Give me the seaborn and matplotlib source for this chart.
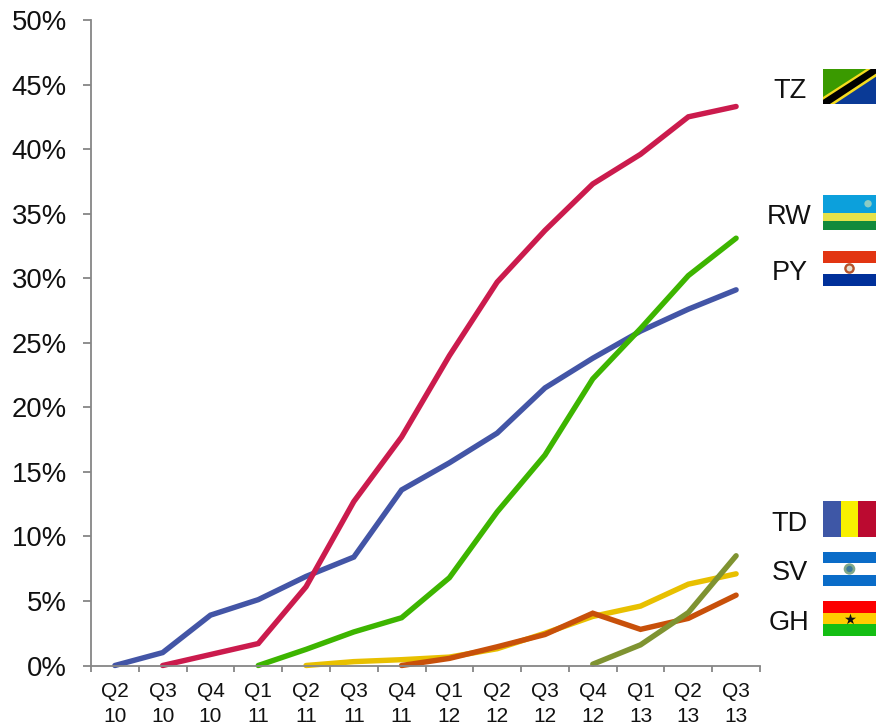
import matplotlib
matplotlib.use("Agg")
import matplotlib.pyplot as plt
from matplotlib.patches import Rectangle, Polygon, Ellipse
import pandas as pd
import seaborn as sns

quarters = ["Q2\n10", "Q3\n10", "Q4\n10", "Q1\n11", "Q2\n11", "Q3\n11", "Q4\n11",
            "Q1\n12", "Q2\n12", "Q3\n12", "Q4\n12", "Q1\n13", "Q2\n13", "Q3\n13"]

py_share = [0, 1.0, 3.9, 5.1, 6.9, 8.4, 13.6, 15.7, 18.0, 21.5, 23.8, 25.9, 27.6, 29.1]
tz_share = [0, 0.85, 1.7, 6.1, 12.7, 17.7, 24.0, 29.7, 33.7, 37.3, 39.6, 42.5, 43.3]
rw_share = [0, 1.25, 2.6, 3.7, 6.8, 11.9, 16.3, 22.2, 26.1, 30.2, 33.1]
sv_share = [0, 0.3, 0.45, 0.65, 1.3, 2.5, 3.8, 4.6, 6.3, 7.1]
gh_share = [0, 0.55, 1.45, 2.4, 4.05, 2.8, 3.65, 5.45]
td_share = [0.1, 1.6, 4.1, 8.5]

series = {"PY": py_share, "TZ": tz_share, "RW": rw_share,
          "SV": sv_share, "GH": gh_share, "TD": td_share}
palette = {"PY": "#4355A6", "TZ": "#CB1B4D", "RW": "#3DB500",
           "SV": "#E8C000", "GH": "#C8500A", "TD": "#7F9331"}

# Each series ends at the last quarter; shorter ones simply start later.
rows = []
for code, values in series.items():
    offset = len(quarters) - len(values)
    for i, v in enumerate(values):
        rows.append({"quarter": offset + i, "share": v, "country": code})
df = pd.DataFrame(rows)

W, H = 876, 725
sns.set_style("white")
plt.rcParams["font.family"] = ["Liberation Sans", "DejaVu Sans"]

fig = plt.figure(figsize=(W / 100, H / 100), dpi=100)
L, R, T, B = 91, 760, 20, 665.5
ax = fig.add_axes([L / W, 1 - B / H, (R - L) / W, (B - T) / H])

sns.lineplot(data=df, x="quarter", y="share", hue="country", palette=palette,
             hue_order=list(series), linewidth=3.9, legend=False, ax=ax,
             solid_capstyle="round", solid_joinstyle="miter", clip_on=False)

ax.set_xlim(-0.5, len(quarters) - 0.5)
ax.set_ylim(0, 50)
ax.set_xlabel("")
ax.set_ylabel("")

# Tick marks sit on the category boundaries, labels between them.
ax.set_xticks([i - 0.5 for i in range(len(quarters) + 1)])
ax.set_xticklabels([])
ax.set_xticks(range(len(quarters)), labels=quarters, minor=True)
ax.set_yticks(range(0, 51, 5))
ax.set_yticklabels([f"{v}%" for v in range(0, 51, 5)], fontsize=19.8, color="#111111")

axis_gray = "#868686"
ax.tick_params(axis="x", which="major", length=4.5, width=1.3, color=axis_gray, bottom=True)
ax.tick_params(axis="x", which="minor", length=0, labelsize=15, pad=12, labelcolor="#111111")
ax.tick_params(axis="y", length=6, width=1.3, color=axis_gray, left=True, pad=11.5)
for label in ax.get_xticklabels(minor=True):
    label.set_linespacing(1.38)
sns.despine(ax=ax)
for side in ("left", "bottom"):
    ax.spines[side].set_color(axis_gray)
    ax.spines[side].set_linewidth(1.3)


def flag_axes(top, height):
    a = fig.add_axes([823 / W, 1 - (top + height) / H, 53 / W, height / H])
    a.set_xlim(0, 1)
    a.set_ylim(0, 1)
    a.axis("off")
    return a


def stripes(a, colors, vertical=False):
    n = len(colors)
    for i, c in enumerate(colors):
        if vertical:
            a.add_patch(Rectangle((i / n, 0), 1 / n, 1, color=c, lw=0))
        else:
            a.add_patch(Rectangle((0, 1 - (i + 1) / n), 1, 1 / n, color=c, lw=0))


def emblem(a, colors, radius):
    # Round coat of arms at the flag centre, outer ring first.
    for c, scale in zip(colors, (1, 0.55)):
        a.add_patch(Ellipse((0.5, 0.5), 2 * radius * scale, 2 * radius * scale * 53 / 35,
                            color=c, lw=0))


# Tanzania
a = flag_axes(69, 35)
a.add_patch(Rectangle((0, 0), 1, 1, color="#3A9A00", lw=0))
a.add_patch(Polygon([(1, 1), (1, 0), (0, 0)], color="#0A3A96", lw=0))
a.add_patch(Polygon([(0, 0.2), (0.82, 1), (1, 1), (1, 0.78), (0.22, 0), (0, 0)],
                    color="#F5DC1E", lw=0))
a.add_patch(Polygon([(0, 0.12), (0.90, 1), (1, 1), (1, 0.87), (0.13, 0), (0, 0)],
                    color="black", lw=0))

# Rwanda
a = flag_axes(195, 35)
a.add_patch(Rectangle((0, 0), 1, 0.25, color="#128A3C", lw=0))
a.add_patch(Rectangle((0, 0.25), 1, 0.25, color="#E6E24A", lw=0))
a.add_patch(Rectangle((0, 0.5), 1, 0.5, color="#0CA0DC", lw=0))
a.add_patch(Ellipse((0.85, 0.75), 0.14, 0.21, color="#8CCBC4", lw=0))

# Paraguay
a = flag_axes(251, 35)
stripes(a, ["#E23512", "white", "#00309A"])
emblem(a, ["#B5522A", "#E8E0D0"], 0.1)

# Chad
a = flag_axes(501, 36)
stripes(a, ["#3E57A6", "#F8F000", "#BB0A30"], vertical=True)

# El Salvador
a = flag_axes(552, 34)
stripes(a, ["#0A6CC8", "white", "#0A6CC8"])
emblem(a, ["#7FA88A", "#3C7A9A"], 0.11)

# Ghana
a = flag_axes(601, 35)
stripes(a, ["#FC0000", "#FFCC00", "#14BE14"])
a.scatter([0.5], [0.5], marker="*", s=70, color="#111111", linewidths=0)

# Country codes beside the flags
for code, y in [("TZ", 91), ("RW", 217), ("PY", 273), ("TD", 524), ("SV", 573), ("GH", 623)]:
    fig.text(789.5 / W, 1 - y / H, code, ha="center", va="center",
             fontsize=19.5, color="#111111")

fig.savefig("out.png", dpi=100, facecolor="white")
